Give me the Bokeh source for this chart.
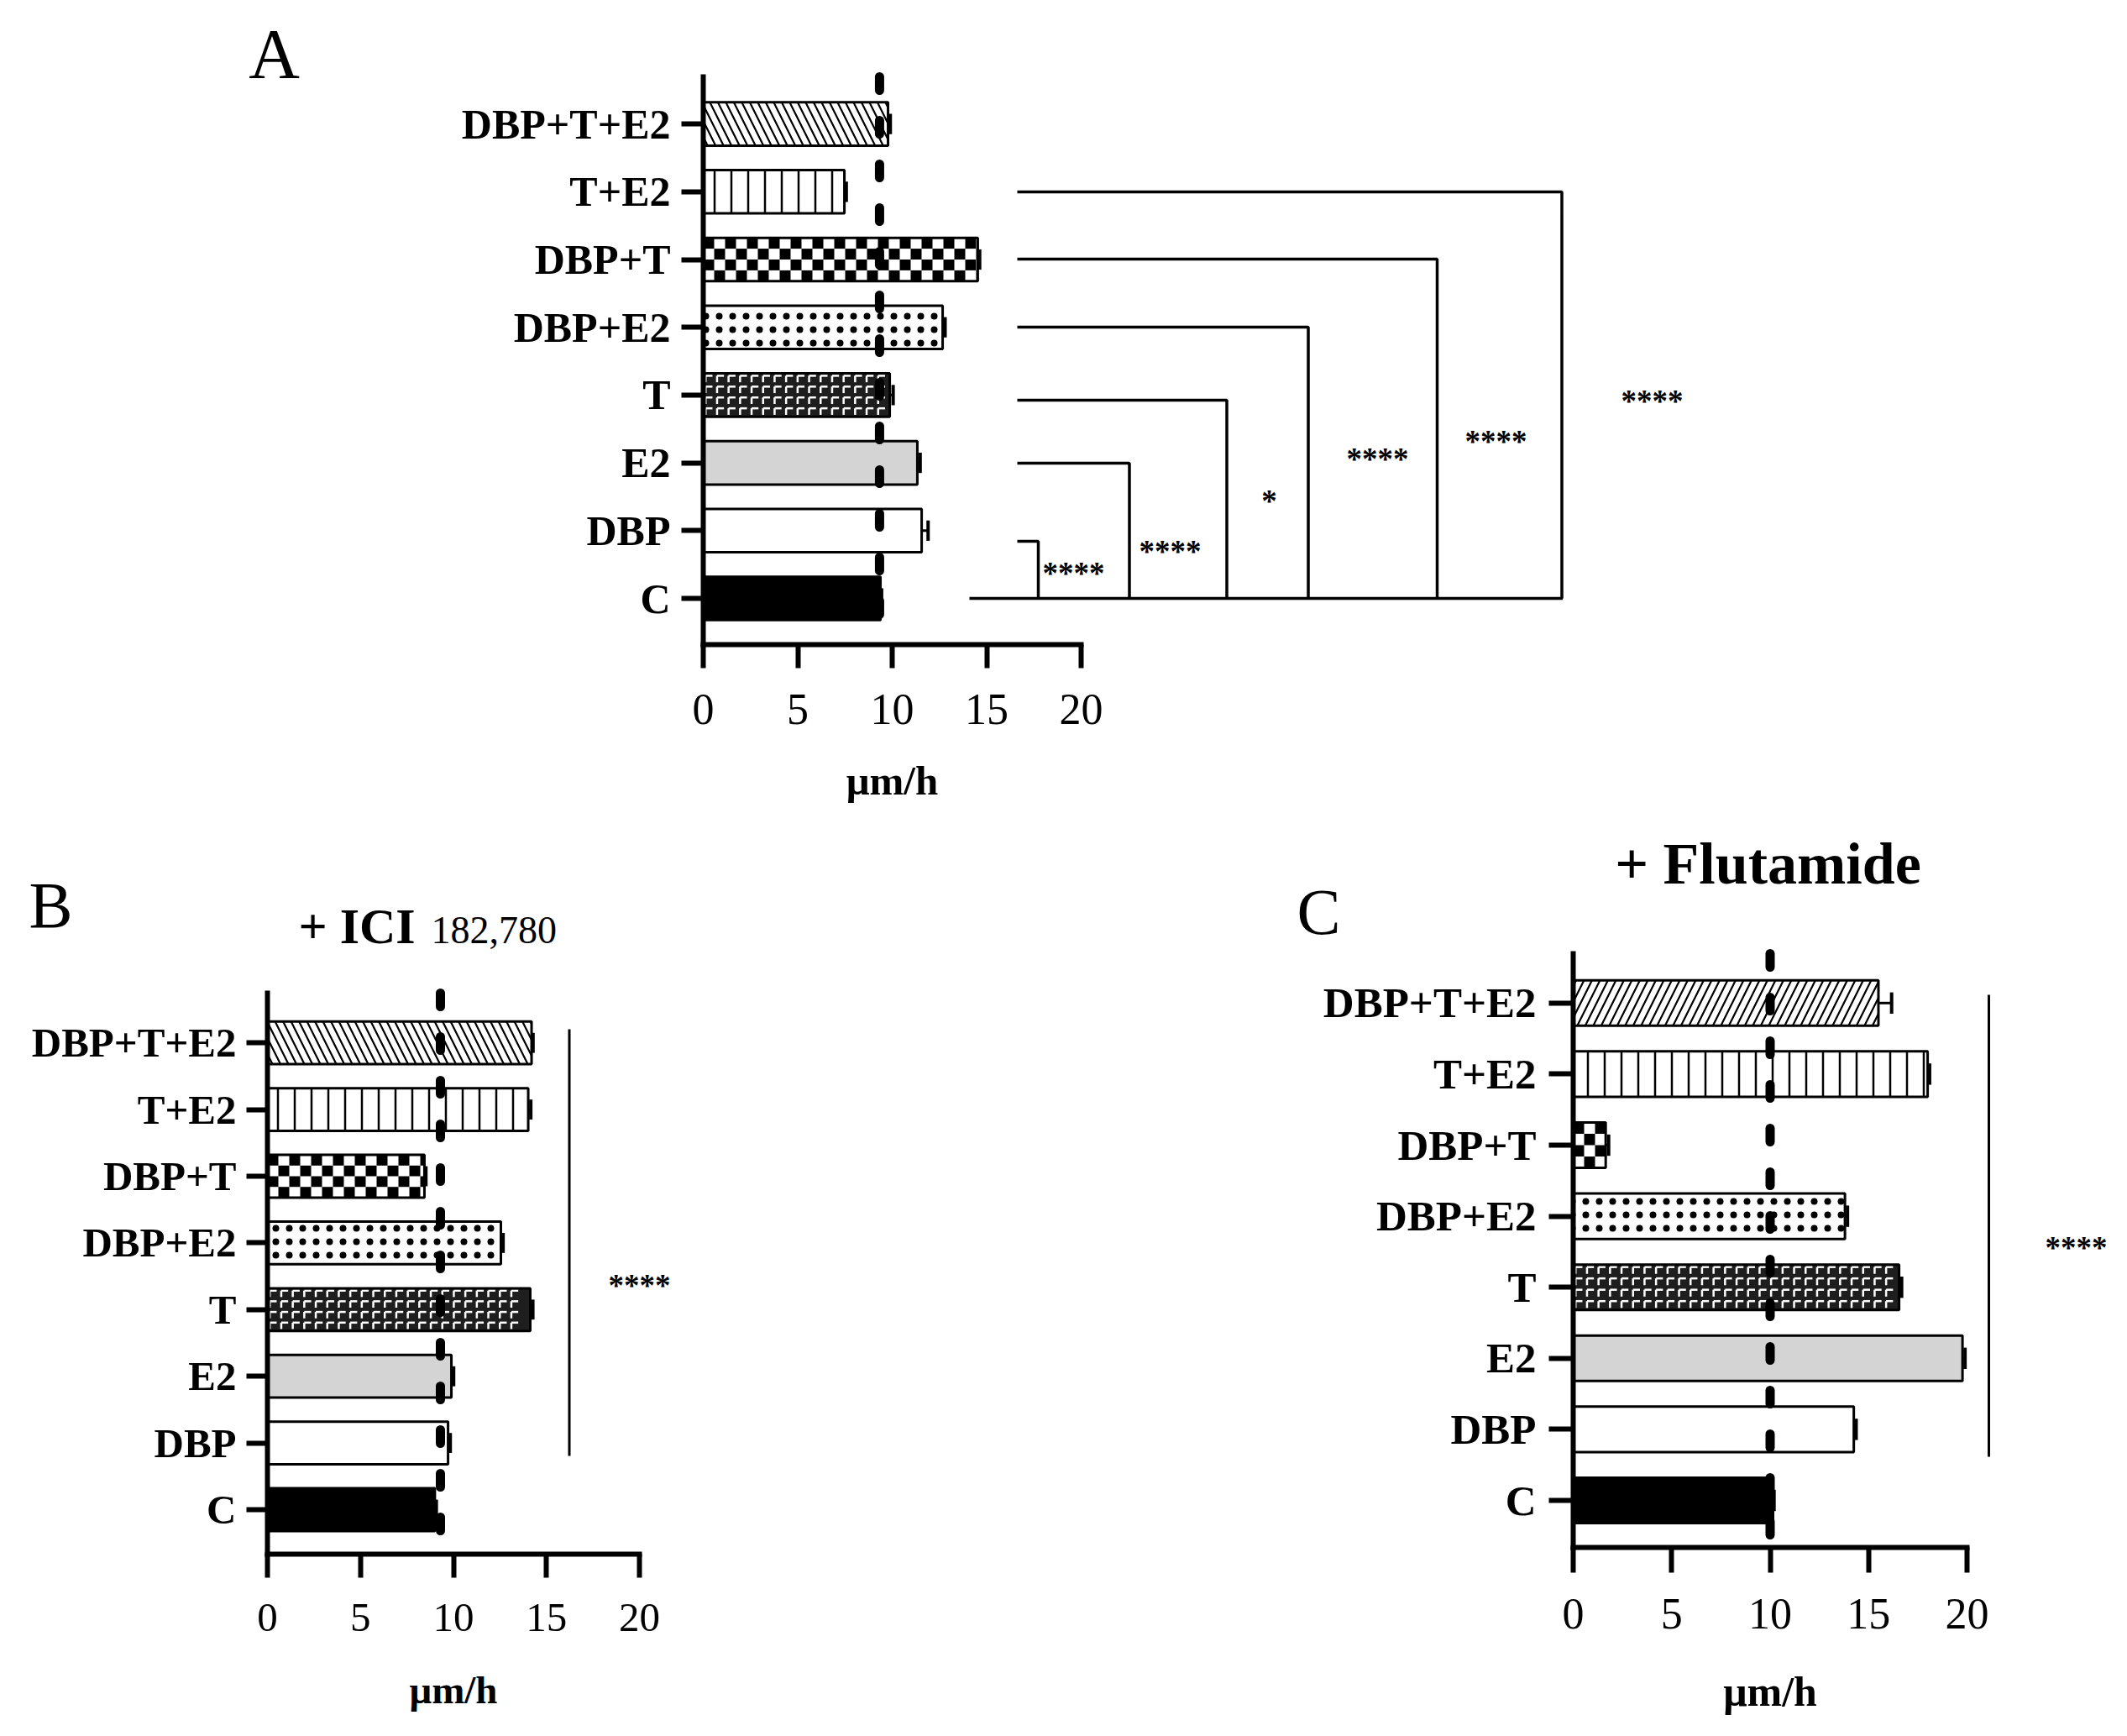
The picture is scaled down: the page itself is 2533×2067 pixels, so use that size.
import numpy as np
from bokeh.plotting import figure
from bokeh.models import FixedTicker, Label
from bokeh.layouts import column, row
from bokeh.embed import file_html
from bokeh.resources import INLINE

# ---------------- data ----------------
categories = ["C", "DBP", "E2", "T", "DBP+E2", "DBP+T", "T+E2", "DBP+T+E2"]
x_ticks = [0, 5, 10, 15, 20]
x_tick_labels = ["0", "5", "10", "15", "20"]
x_label = "μm/h"

a_means = [9.38, 11.56, 11.33, 9.87, 12.67, 14.53, 7.47, 9.78]
a_sem = [0.06, 0.34, 0.15, 0.18, 0.13, 0.10, 0.10, 0.12]
b_means = [9.00, 9.71, 9.89, 14.13, 12.55, 8.44, 14.02, 14.20]
b_sem = [0.08, 0.12, 0.12, 0.14, 0.12, 0.08, 0.14, 0.08]
c_means = [10.15, 14.25, 19.77, 16.55, 13.80, 1.65, 18.00, 15.50]
c_sem = [0.05, 0.12, 0.13, 0.13, 0.13, 0.15, 0.10, 0.67]
ref_line = {"A": 9.33, "B": 9.30, "C": 10.0}

a_compared = ["DBP", "E2", "T", "DBP+E2", "DBP+T", "T+E2"]   # each vs C
a_marks = ["****", "****", "*", "****", "****", "****"]
overall_mark = "****"

letters = {"A": "A", "B": "B", "C": "C"}
b_title_main, b_title_sub = "+ ICI", "182,780"
c_title = "+ Flutamide"

# ---------------- styles ----------------
SERIF = "Liberation Serif"
BAR_H = 0.64


def bar_styles(diag):
    fills = ["black", "white", "#d4d4d4", "#1e1e1e", "white", "white", "white", "white"]
    pats = [" ", " ", " ", " ", "dot", " ", "vertical_line", diag]
    scales = [12, 12, 12, 12, 16, 12, 20, 19]
    weights = [1, 1, 1, 1, 1.5, 1, 2.5, 2.2]
    return fills, pats, scales, weights


def text(p, x, y, s, size, bold=False, align="center"):
    p.add_layout(Label(x=x, y=y, text=s, text_align=align, text_baseline="middle",
                       text_font=SERIF, text_font_style="bold" if bold else "normal",
                       text_font_size=f"{size}px", text_color="black"))


def make_panel(spec, means, sem, diag):
    W, H = spec["w"], spec["h"]
    fx0, fy0 = spec["origin"]
    ax, ay = spec["axis"]
    ppu, cy, sp = spec["ppu"], spec["c_y"], spec["spacing"]
    X = lambda px: (px - ax) / ppu
    Y = lambda py: (cy - py) / sp
    ybot, ytop = Y(ay), Y(spec["axis_top"])

    p = figure(width=W, height=H, x_range=(X(fx0), X(fx0 + W)), y_range=(Y(fy0 + H), Y(fy0)),
               toolbar_location=None, output_backend="svg", title=None, min_border=0)
    p.outline_line_color = None
    p.xgrid.visible = False
    p.ygrid.visible = False
    p.background_fill_color = "white"
    p.border_fill_color = "white"

    xa, ya = p.xaxis[0], p.yaxis[0]
    xa.fixed_location = ybot
    ya.fixed_location = 0
    xa.ticker = FixedTicker(ticks=x_ticks, minor_ticks=[])
    xa.major_label_overrides = {t: s for t, s in zip(x_ticks, x_tick_labels)}
    xa.bounds = (0, 20)
    ya.ticker = FixedTicker(ticks=list(range(len(categories))), minor_ticks=[])
    ya.major_label_overrides = {i: c for i, c in enumerate(categories)}
    ya.bounds = (ybot, ytop)
    for a_ in (xa, ya):
        a_.axis_line_width = 6
        a_.axis_line_color = "black"
        a_.axis_line_cap = "square"
        a_.major_tick_line_width = 6
        a_.major_tick_line_color = "black"
        a_.major_tick_in = 0
        a_.minor_tick_line_color = None
        a_.major_label_text_color = "black"
        a_.major_label_text_font = SERIF
    xa.major_tick_out = spec["xtick_out"]
    xa.major_label_standoff = 31
    xa.major_label_text_font_size = spec["xfont"]
    ya.major_tick_out = spec["ytick_out"]
    ya.major_label_standoff = spec["ystandoff"]
    ya.major_label_text_font_size = spec["yfont"]
    ya.major_label_text_font_style = "bold"

    idx = np.arange(len(categories))
    m = np.array(means)
    s = np.array(sem)
    fills, pats, scales, weights = bar_styles(diag)
    p.hbar(y=idx, left=0, right=m, height=BAR_H, fill_color=fills, line_color=None,
           hatch_pattern=pats, hatch_color="black", hatch_scale=scales, hatch_weight=weights)

    # checkerboard for DBP+T (13 px squares, 4 rows)
    k = categories.index("DBP+T")
    v = m[k]
    sqx = 13.0 / ppu
    rows = 4
    sqy = BAR_H / rows
    ql, qr, qb, qt = [], [], [], []
    ncol = int(np.ceil(v / sqx))
    for r_ in range(rows):
        for c_ in range(ncol):
            if (r_ + c_) % 2 == 0:
                l_ = c_ * sqx
                ql.append(l_)
                qr.append(min(l_ + sqx, v))
                qt.append(k + BAR_H / 2 - r_ * sqy)
                qb.append(k + BAR_H / 2 - (r_ + 1) * sqy)
    p.quad(left=ql, right=qr, bottom=qb, top=qt, fill_color="black", line_color=None)

    # white "Γ" weave for T on dark fill
    k = categories.index("T")
    v = m[k]
    tw = 13.7 / ppu
    th = BAR_H / 4
    hx0, hx1, hy, vx, vy0, vy1 = [], [], [], [], [], []
    ncol = int(np.floor(v / tw))
    for r_ in range(4):
        for c_ in range(ncol):
            x0 = c_ * tw + 0.2 * tw
            y0 = k + BAR_H / 2 - r_ * th - 0.22 * th
            hx0.append(x0); hx1.append(x0 + 0.6 * tw); hy.append(y0)
            vx.append(x0); vy0.append(y0); vy1.append(y0 - 0.6 * th)
    p.segment(x0=hx0, x1=hx1, y0=hy, y1=hy, line_color="white", line_width=2.5)
    p.segment(x0=vx, x1=vx, y0=vy0, y1=vy1, line_color="white", line_width=2.5)

    # bar outlines on top
    p.hbar(y=idx, left=0, right=m, height=BAR_H, fill_color=None, line_color="black", line_width=3)
    # error bars
    p.segment(x0=m, x1=m + s, y0=idx, y1=idx, line_color="black", line_width=3)
    p.segment(x0=m + s, x1=m + s, y0=idx - 0.15, y1=idx + 0.15, line_color="black", line_width=4)
    # dashed reference line
    r = spec["ref"]
    p.segment(x0=[r], x1=[r], y0=[ytop], y1=[ybot], line_color="black", line_width=11,
              line_dash="16 36", line_cap="round")

    # panel letter (cap centre) and x axis title
    lx, lcy = spec["letter_pos"]
    text(p, X(lx), Y(lcy), spec["letter"], spec["letter_size"])
    text(p, 10, Y(spec["xlabel_mid"]), x_label, spec["xlabel_size"], bold=True)
    return p, X, Y


def star(p, X, Y, cx, cyc, s, size=37):
    text(p, X(cx), Y(cyc + 0.13 * size), s, size, bold=True)


# ---------------- panel A ----------------
specA = dict(w=2517, h=990, origin=(0, 0), axis=(837, 767), ppu=22.5, c_y=712, spacing=80.7,
             axis_top=91, xtick_out=28, ytick_out=26, ystandoff=13, xfont="52px", yfont="50px",
             ref=ref_line["A"], letter=letters["A"], letter_pos=(326, 64), letter_size=84,
             xlabel_mid=929, xlabel_size=49)
pA, XA, YA = make_panel(specA, a_means, a_sem, "left_diagonal_line")

# comparison brackets (layout in reference pixels)
bracket_left = 1211
bracket_right = [1236, 1344.5, 1460.5, 1557.5, 1711, 1859.5]
bracket_top = [644, 551, 476, 389, 308, 228]
mark_pos = [(1278, 677), (1393, 651), (1511, 591), (1640, 541), (1781, 520)]
xs, ys = [], []
for xr, yt in zip(bracket_right, bracket_top):
    xs.append([XA(bracket_left), XA(xr), XA(xr)])
    ys.append([YA(yt), YA(yt), YA(712)])
xs.append([XA(1154), XA(1860.6)])
ys.append([YA(712), YA(712)])
pA.multi_line(xs=xs, ys=ys, line_color="black", line_width=3.5)
for (mx, my), t in zip(mark_pos, a_marks):
    star(pA, XA, YA, mx, my, t)
star(pA, XA, YA, 1967, 472, overall_mark)

# ---------------- panel B ----------------
specB = dict(w=1000, h=1061, origin=(0, 990), axis=(318, 1850), ppu=22.15, c_y=1797, spacing=79.4,
             axis_top=1182, xtick_out=28, ytick_out=25, ystandoff=12, xfont="49px", yfont="49px",
             ref=ref_line["B"], letter=letters["B"], letter_pos=(60, 1077), letter_size=78,
             xlabel_mid=2011, xlabel_size=47)
pB, XB, YB = make_panel(specB, b_means, b_sem, "left_diagonal_line")
pB.segment(x0=[XB(677.5)], x1=[XB(677.5)], y0=[YB(1225)], y1=[YB(1733)], line_color="black", line_width=3)
star(pB, XB, YB, 761, 1525, overall_mark)
text(pB, XB(355), YB(1123 - 0.3375 * 60), b_title_main, 60, bold=True, align="left")
text(pB, XB(513), YB(1123 - 0.3375 * 46), b_title_sub, 46, align="left")

# ---------------- panel C ----------------
specC = dict(w=1517, h=1061, origin=(1000, 990), axis=(1873, 1842), ppu=23.45, c_y=1786, spacing=84.6,
             axis_top=1135, xtick_out=30, ytick_out=29, ystandoff=15, xfont="52px", yfont="51px",
             ref=ref_line["C"], letter=letters["C"], letter_pos=(1570, 1085), letter_size=78,
             xlabel_mid=2013, xlabel_size=50)
pC, XC, YC = make_panel(specC, c_means, c_sem, "right_diagonal_line")
pC.segment(x0=[XC(2368)], x1=[XC(2368)], y0=[YC(1184)], y1=[YC(1734)], line_color="black", line_width=3)
star(pC, XC, YC, 2472, 1480, overall_mark)
text(pC, XC(2105), YC(1052 - 0.3375 * 70), c_title, 70, bold=True)

layout = column(pA, row(pB, pC))
open("out.html", "w").write(file_html(layout, INLINE))
